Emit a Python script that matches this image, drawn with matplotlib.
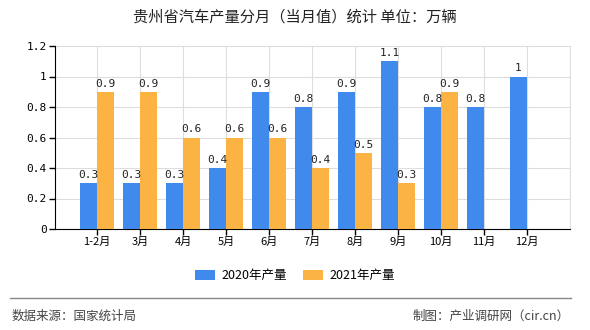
import numpy as np
import matplotlib.pyplot as plt

plt.rcParams['font.family'] = ['Noto Sans CJK SC', 'DejaVu Sans']

months = ['1-2月', '3月', '4月', '5月', '6月', '7月', '8月', '9月', '10月', '11月', '12月']
output_2020 = [0.3, 0.3, 0.3, 0.4, 0.9, 0.8, 0.9, 1.1, 0.8, 0.8, 1]
output_2021 = [0.9, 0.9, 0.6, 0.6, 0.6, 0.4, 0.5, 0.3, 0.9, None, None]

blue = '#4089ED'
orange = '#FBB443'

fig = plt.figure(figsize=(5.9, 3.3), dpi=100)
ax = fig.add_axes([55/590, 1 - 229/330, 515/590, 183/330])

x = np.arange(len(months))
w = 0.4
ax.bar(x - w/2, output_2020, w, color=blue, label='2020年产量', zorder=3)
x21 = [i for i, v in enumerate(output_2021) if v is not None]
v21 = [v for v in output_2021 if v is not None]
ax.bar(np.array(x21) + w/2, v21, w, color=orange, label='2021年产量', zorder=3)

# value labels
for i, v in enumerate(output_2020):
    ax.text(i - w/2, v + 0.02, f'{v:g}', ha='center', va='bottom', fontsize=8, color='#222222', family='DejaVu Sans Mono')
for i, v in zip(x21, v21):
    ax.text(i + w/2, v + 0.02, f'{v:g}', ha='center', va='bottom', fontsize=8, color='#222222', family='DejaVu Sans Mono')

ax.set_xlim(-0.98, 11)
ax.set_ylim(0, 1.2)
ax.set_yticks(np.arange(0, 1.21, 0.2))
ax.set_yticklabels(['0', '0.2', '0.4', '0.6', '0.8', '1', '1.2'], family='DejaVu Sans Mono', fontsize=8)
ax.set_xticks(x)
ax.set_xticklabels(months, fontsize=8)
ax.grid(True, color='#DDDDDD', linewidth=0.8, zorder=0)
ax.tick_params(axis='both', length=4, width=1, color='black', pad=2)
ax.spines['top'].set_visible(False)
ax.spines['right'].set_color('#DDDDDD')
ax.spines['left'].set_color('black')
ax.spines['bottom'].set_color('black')

fig.text(0.5, 1 - 17/330, '贵州省汽车产量分月（当月值）统计 单位：万辆', ha='center', va='center', fontsize=11, color='#222222')

fig.legend(loc='center', bbox_to_anchor=(0.5, 1 - 276/330), ncol=2, frameon=False,
           fontsize=9, handlelength=1.6, handleheight=0.8, handletextpad=0.5, columnspacing=1.3)

fig.add_artist(plt.Line2D([10/590, 571/590], [1 - 298/330, 1 - 298/330], color='#888888', linewidth=1))
fig.text(12/590, 1 - 316/330, '数据来源：国家统计局', ha='left', va='center', fontsize=9, color='#444444')
fig.text(570/590, 1 - 316/330, '制图：产业调研网（cir.cn）', ha='right', va='center', fontsize=9, color='#444444')

fig.savefig('out.png', dpi=100)
